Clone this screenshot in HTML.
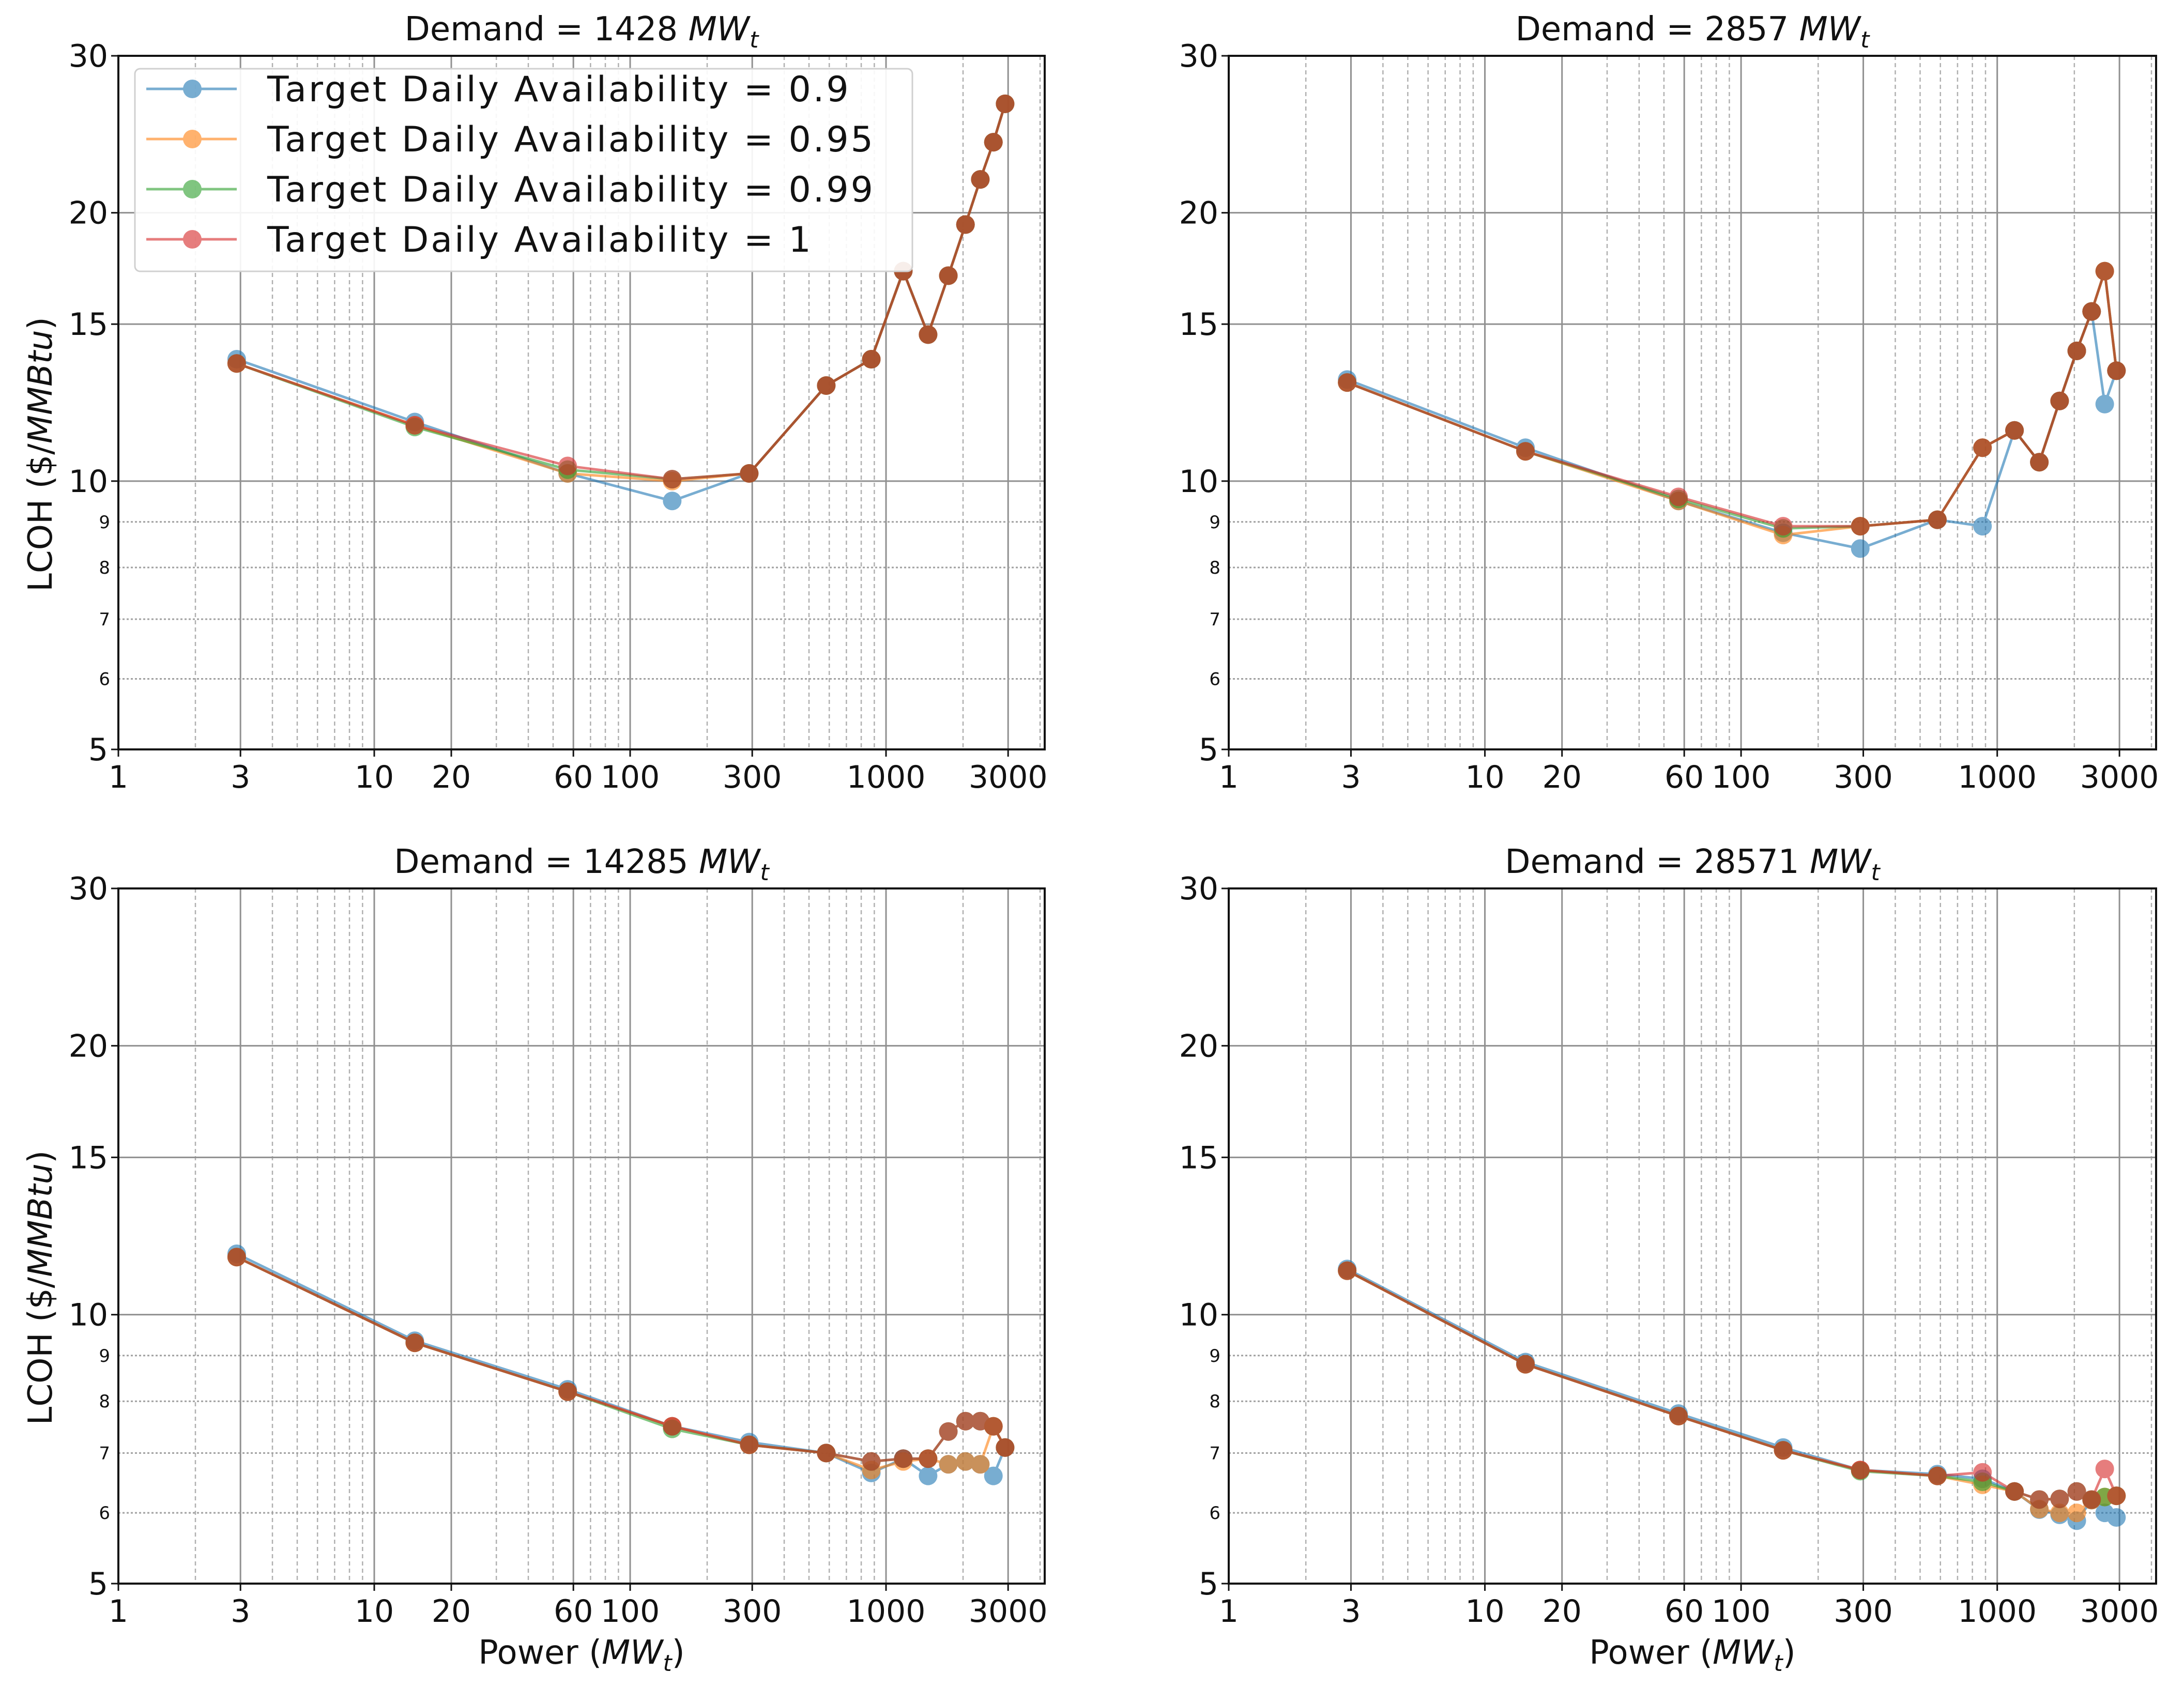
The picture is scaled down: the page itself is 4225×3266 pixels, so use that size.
<!DOCTYPE html>
<html><head><meta charset="utf-8"><style>
html,body{margin:0;padding:0;background:#fff;}
svg{display:block;font-family:"DejaVu Sans","Liberation Sans",sans-serif;}
</style></head><body>
<svg id="fig" width="4225" height="3266" viewBox="0 0 4225 3266" xmlns="http://www.w3.org/2000/svg"></svg>
<script>
const powers = [2.9,14.4,57,146,292,584,876,1168,1460,1752,2044,2336,2628,2920];
const seriesNames = ["Target Daily Availability = 0.9","Target Daily Availability = 0.95","Target Daily Availability = 0.99","Target Daily Availability = 1"];
const seriesColors = ["#1f77b4","#ff7f0e","#2ca02c","#d62728"];
const demandLabels = ["1428","2857","14285","28571"];
// panel 1 (demand 1428)
const p1_s090 = [13.7,11.65,10.2,9.5,10.2,12.8,13.7,17.2,14.6,17.0,19.4,21.8,24.0,26.5];
const p1_s095 = [13.55,11.55,10.2,10.0,10.2,12.8,13.7,17.2,14.6,17.0,19.4,21.8,24.0,26.5];
const p1_s099 = [13.55,11.5,10.3,10.05,10.2,12.8,13.7,17.2,14.6,17.0,19.4,21.8,24.0,26.5];
const p1_s100 = [13.55,11.55,10.4,10.05,10.2,12.8,13.7,17.2,14.6,17.0,19.4,21.8,24.0,26.5];
// panel 2 (demand 2857)
const p2_s090 = [13.0,10.9,9.5,8.75,8.4,9.05,8.9,11.4,10.5,12.3,14.0,15.5,12.2,13.3];
const p2_s095 = [12.9,10.8,9.5,8.7,8.9,9.05,10.9,11.4,10.5,12.3,14.0,15.5,17.2,13.3];
const p2_s099 = [12.9,10.8,9.55,8.85,8.9,9.05,10.9,11.4,10.5,12.3,14.0,15.5,17.2,13.3];
const p2_s100 = [12.9,10.8,9.6,8.9,8.9,9.05,10.9,11.4,10.5,12.3,14.0,15.5,17.2,13.3];
// panel 3 (demand 14285)
const p3_s090 = [11.7,9.35,8.25,7.5,7.2,7.0,6.65,6.9,6.6,6.8,6.85,6.8,6.6,7.1];
const p3_s095 = [11.6,9.3,8.2,7.5,7.15,7.0,6.7,6.85,6.9,6.8,6.85,6.8,7.5,7.1];
const p3_s099 = [11.6,9.3,8.2,7.45,7.15,7.0,6.85,6.9,6.9,7.4,7.6,7.6,7.5,7.1];
const p3_s100 = [11.6,9.3,8.2,7.5,7.15,7.0,6.85,6.9,6.9,7.4,7.6,7.6,7.5,7.1];
// panel 4 (demand 28571)
const p4_s090 = [11.25,8.85,7.75,7.1,6.7,6.63,6.55,6.34,6.05,5.97,5.88,6.2,6.0,5.93];
const p4_s095 = [11.2,8.8,7.7,7.05,6.7,6.6,6.45,6.34,6.06,6.0,6.0,6.2,6.25,6.27];
const p4_s099 = [11.2,8.8,7.7,7.05,6.68,6.6,6.5,6.34,6.21,6.22,6.34,6.21,6.25,6.27];
const p4_s100 = [11.2,8.8,7.7,7.05,6.7,6.6,6.66,6.34,6.21,6.22,6.34,6.21,6.72,6.27];
const panelSeries = [[p1_s090,p1_s095,p1_s099,p1_s100],[p2_s090,p2_s095,p2_s099,p2_s100],[p3_s090,p3_s095,p3_s099,p3_s100],[p4_s090,p4_s095,p4_s099,p4_s100]];
const xTickLabels = [1,3,10,20,60,100,300,1000,3000];
const yMajorTicks = [5,10,15,20,30];
const yMinorTicks = [6,7,8,9];

const NS="http://www.w3.org/2000/svg";
const svg=document.getElementById('fig');
function mk(tag,attrs,parent){const e=document.createElementNS(NS,tag);for(const k in attrs)e.setAttribute(k,attrs[k]);(parent||svg).appendChild(e);return e;}
const XMIN=1,XMAX=4170,YMIN=5,YMAX=30;
const panels=[{x0:229,x1:2021,y0:108,y1:1450},{x0:2377,x1:4171,y0:108,y1:1450},{x0:229,x1:2021,y0:1719,y1:3064},{x0:2377,x1:4171,y0:1719,y1:3064}];

panels.forEach((P,pi)=>{
  const sx=v=>P.x0+(Math.log10(v)-Math.log10(XMIN))/(Math.log10(XMAX)-Math.log10(XMIN))*(P.x1-P.x0);
  const sy=v=>P.y1-(Math.log10(v)-Math.log10(YMIN))/(Math.log10(YMAX)-Math.log10(YMIN))*(P.y1-P.y0);
  const g=mk('g',{});
  
  
  for(let d=1;d<=1000;d*=10){for(let m=2;m<=9;m++){const v=d*m;if(v>XMAX)continue;
    if(xTickLabels.indexOf(v)>=0)continue;
    const l=mk('line',{x1:sx(v),x2:sx(v),y1:P.y0,y2:P.y1,stroke:'#b0b0b0','stroke-width':2.5,'stroke-dasharray':'8,6'},g);
    }}
  xTickLabels.forEach(v=>{
    const l=mk('line',{x1:sx(v),x2:sx(v),y1:P.y0,y2:P.y1,stroke:'#909090','stroke-width':3},g);
    
    const t=mk('text',{x:sx(v),y:P.y1+74,'font-size':60,'text-anchor':'middle',fill:'#111'},g);t.textContent=v;
    
    mk('line',{x1:sx(v),x2:sx(v),y1:P.y1,y2:P.y1+14,stroke:'#111','stroke-width':3},g);
  });
  yMinorTicks.forEach(v=>{
    const l=mk('line',{x1:P.x0,x2:P.x1,y1:sy(v),y2:sy(v),stroke:'#a0a0a0','stroke-width':3,'stroke-dasharray':'4,4'},g);
    
    const t=mk('text',{x:P.x0-16,y:sy(v)+12,'font-size':34,'text-anchor':'end',fill:'#111'},g);t.textContent=v;
    
  });
  yMajorTicks.forEach(v=>{
    const l=mk('line',{x1:P.x0,x2:P.x1,y1:sy(v),y2:sy(v),stroke:'#909090','stroke-width':3},g);
    
    const t=mk('text',{x:P.x0-20,y:sy(v)+21,'font-size':60,'text-anchor':'end',fill:'#111'},g);t.textContent=v;
    
    mk('line',{x1:P.x0-14,x2:P.x0,y1:sy(v),y2:sy(v),stroke:'#111','stroke-width':3},g);
  });
  panelSeries[pi].forEach((vals,si)=>{
    const sg=mk('g',{opacity:0.6},g);
    
    
    const pts=powers.map((p,i)=>sx(p)+','+sy(vals[i])).join(' ');
    const pl=mk('polyline',{points:pts,fill:'none',stroke:seriesColors[si],'stroke-width':5},sg);
    
    powers.forEach((p,i)=>{const c=mk('circle',{cx:sx(p),cy:sy(vals[i]),r:18,fill:seriesColors[si]},sg);
      });
  });
  const fr=mk('rect',{x:P.x0,y:P.y0,width:P.x1-P.x0,height:P.y1-P.y0,fill:'none',stroke:'#111','stroke-width':4},g);
  
  const tt=mk('text',{x:(P.x0+P.x1)/2,y:P.y0-30,'font-size':64,'text-anchor':'middle',fill:'#111'},g);
  
  tt.innerHTML='Demand = '+demandLabels[pi]+' <tspan font-style="italic">MW</tspan><tspan font-style="italic" font-size="44" dy="14">t</tspan>';
  if(pi>=2){const xt=mk('text',{x:(P.x0+P.x1)/2,y:P.y1+155,'font-size':64,'text-anchor':'middle',fill:'#111'},g);
    
    xt.innerHTML='Power (<tspan font-style="italic">MW</tspan><tspan font-style="italic" font-size="44" dy="14">t</tspan><tspan dy="-14">)</tspan>';}
  if(pi%2===0){const cy=(P.y0+P.y1)/2+100;const yt=mk('text',{x:0,y:0,'font-size':64,'text-anchor':'middle',fill:'#111',transform:'translate(100,'+cy+') rotate(-90)'},g);
    
    yt.innerHTML='LCOH ($/<tspan font-style="italic">MMBtu</tspan>)';}
});
const lg=mk('g',{});


mk('rect',{x:261,y:133,width:1504,height:392,rx:10,fill:'#fff','fill-opacity':0.9,stroke:'#d0d0d0','stroke-width':3},lg);
seriesNames.forEach((n,i)=>{const y=172+i*97;
  const e=mk('g',{},lg);
  
  
  const eg=mk('g',{opacity:0.6},e);
  mk('line',{x1:283,x2:458,y1:y,y2:y,stroke:seriesColors[i],'stroke-width':5},eg);
  mk('circle',{cx:372,cy:y,r:18,fill:seriesColors[i]},eg);
  const t=mk('text',{x:517,y:y+24,'font-size':68,fill:'#111','letter-spacing':4},e);t.textContent=n;
});
</script>
</body></html>
